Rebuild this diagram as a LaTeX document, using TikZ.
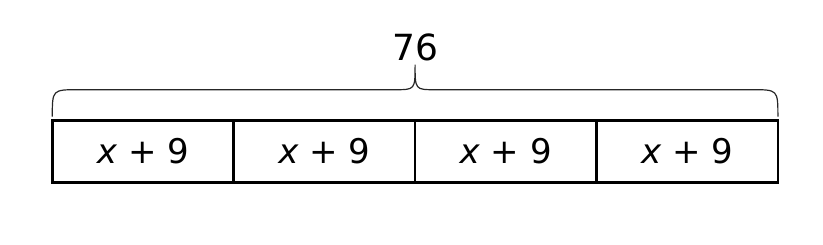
\documentclass[tikz,border=0pt]{standalone}
\usepackage{fontspec}
\setmainfont{DejaVu Sans}
\usepackage{tikz}
\usetikzlibrary{positioning,calc}

\tikzset{
  cell/.style={draw,line width=2.7pt,minimum width=181.4pt,minimum height=61.6pt,
    inner sep=0pt,outer sep=0pt,font=\fontsize{34}{40}\selectfont},
  bracepath/.style={line width=1.2pt,draw=black!85}
}

\begin{document}
\begin{tikzpicture}[x=1pt,y=-1pt]
\useasboundingbox (0,0) rectangle (823,245);
% the four equal parts
\node[cell] (c1) at (143,151.5) {\textit{x} + 9};
\node[cell,right=0pt of c1] (c2) {\textit{x} + 9};
\node[cell,right=0pt of c2] (c3) {\textit{x} + 9};
\node[cell,right=0pt of c3] (c4) {\textit{x} + 9};
% brace over the whole bar
\coordinate (bl) at ($(c1.north west)+(0,-4)$);
\coordinate (br) at ($(c4.north east)+(0,-4)$);
\coordinate (tip) at ($(c2.north east)+(0,-56)$);
\draw[bracepath] (bl) .. controls ($(bl)+(0,-27)$) .. ($(bl)+(26,-27)$)
  -- ($(tip)+(-20,25)$) .. controls ($(tip)+(0,25)$) .. (tip)
  .. controls ($(tip)+(0,25)$) .. ($(tip)+(20,25)$)
  -- ($(br)+(-26,-27)$) .. controls ($(br)+(0,-27)$) .. (br);
\node[font=\fontsize{36}{42}\selectfont,anchor=south,inner sep=0pt] (total) at ($(tip)+(0,-3)$) {76};
\end{tikzpicture}
\end{document}
